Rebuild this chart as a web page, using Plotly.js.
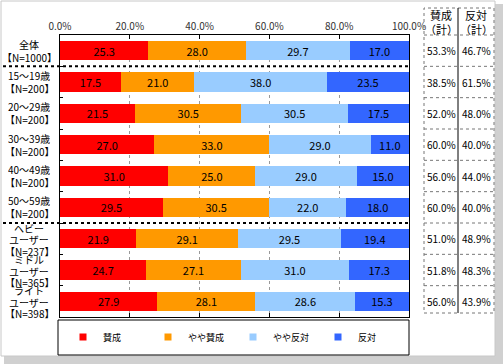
<!DOCTYPE html>
<html>
<head>
<meta charset="utf-8">
<script src="https://cdn.plot.ly/plotly-3.0.1.min.js"></script>
<style>html,body{margin:0;padding:0;background:#fff;}#chart{width:503px;height:364px;}</style>
</head>
<body>
<div id="chart"></div>
<script>
// ---- data ----
const categories = ['全体<br>【N=1000】', '15～19歳<br>【N=200】', '20～29歳<br>【N=200】', '30～39歳<br>【N=200】', '40～49歳<br>【N=200】', '50～59歳<br>【N=200】', 'ヘビー<br>ユーザー<br>【N=237】', 'ミドル<br>ユーザー<br>【N=365】', 'ライト<br>ユーザー<br>【N=398】'];
const seriesNames = ['賛成', 'やや賛成', 'やや反対', '反対'];
const sansei     = [25.3, 17.5, 21.5, 27.0, 31.0, 29.5, 21.9, 24.7, 27.9];
const yayaSansei = [28.0, 21.0, 30.5, 33.0, 25.0, 30.5, 29.1, 27.1, 28.1];
const yayaHantai = [29.7, 38.0, 30.5, 29.0, 29.0, 22.0, 29.5, 31.0, 28.6];
const hantai     = [17.0, 23.5, 17.5, 11.0, 15.0, 18.0, 19.4, 17.3, 15.3];
const sanseiTotal = ['53.3%', '38.5%', '52.0%', '60.0%', '56.0%', '60.0%', '51.0%', '51.8%', '56.0%'];
const hantaiTotal = ['46.7%', '61.5%', '48.0%', '40.0%', '44.0%', '40.0%', '48.9%', '48.3%', '43.9%'];
const tableHeaders = ['賛成<br>（計）', '反対<br>（計）'];
const xTickVals = [0, 20, 40, 60, 80, 100];

const colors = ['#FF0000', '#FF9900', '#99CCFF', '#3366FF'];
const values = [sansei, yayaSansei, yayaHantai, hantai];
const FONT = '"Noto Sans CJK JP", "Noto Sans", sans-serif';

// geometry helpers (pixels of the 503x364 canvas)
const W = 503, H = 364;
const M = {l: 60, r: 94, t: 35, b: 47};
const PW = W - M.l - M.r, PH = H - M.t - M.b;
const px = x => (x - M.l) / PW;          // pixel x -> paper x
const py = y => 1 - (y - M.t) / PH;      // pixel y -> paper y
const n = categories.length;
const rowY = i => 1 - (i + 0.5) / n;     // category centre -> paper y
const rowEdge = i => 1 - i / n;          // boundary above category i

const traces = values.map((v, k) => ({
  type: 'bar', orientation: 'h',
  x: v, y: categories,
  name: seriesNames[k],
  marker: {color: colors[k], line: {width: 0}},
  width: 0.62,
  text: v.map(d => d.toFixed(1)),
  textposition: 'inside', insidetextanchor: 'middle', textangle: 0,
  constraintext: 'none',
  textfont: {family: FONT, size: 11, color: '#000'},
  hoverinfo: 'skip', showlegend: false
}));
// legend-only markers (small squares)
seriesNames.forEach((nm, k) => traces.push({
  type: 'scatter', mode: 'markers', x: [null], y: [null], name: nm,
  marker: {symbol: 'square', size: 7, color: colors[k]}, showlegend: true, hoverinfo: 'skip'
}));

const shapes = [];
const annotations = [];

// outer frame with shadow
shapes.push({type: 'rect', xref: 'paper', yref: 'paper', x0: px(4), x1: px(503), y0: py(364), y1: py(4),
  fillcolor: '#d0d0d0', line: {width: 0}, layer: 'below'});
shapes.push({type: 'rect', xref: 'paper', yref: 'paper', x0: px(1), x1: px(495), y0: py(356), y1: py(1),
  fillcolor: '#ffffff', line: {color: '#c8c8c8', width: 1}, layer: 'below'});

// separators
[1, 6].forEach(i => shapes.push({type: 'line', xref: 'paper', yref: 'paper', x0: px(3), x1: px(411),
  y0: rowEdge(i), y1: rowEdge(i), line: {color: '#000', width: 2, dash: 'dot'}}));

// legend frame
shapes.push({type: 'rect', xref: 'paper', yref: 'paper', x0: px(58), x1: px(409), y0: py(355), y1: py(320),
  line: {color: '#000', width: 1}});

// table
const tL = 424, tM = 458, tR = 494, tT = 8, tB = 313;
shapes.push({type: 'rect', xref: 'paper', yref: 'paper', x0: px(tL), x1: px(tR), y0: py(tB), y1: py(tT),
  line: {color: '#777', width: 1, dash: 'dot'}});
shapes.push({type: 'line', xref: 'paper', yref: 'paper', x0: px(tM), x1: px(tM), y0: py(tB), y1: py(tT),
  line: {color: '#000', width: 1}});
for (let i = 0; i < n; i++) {
  shapes.push({type: 'line', xref: 'paper', yref: 'paper', x0: px(tL), x1: px(tR), y0: rowEdge(i), y1: rowEdge(i),
    line: {color: '#777', width: 1, dash: 'dot'}});
}
const cA = (tL + tM) / 2, cB = (tM + tR) / 2;
tableHeaders.forEach((h, k) => {
  h.split('<br>').forEach((line, j) => annotations.push({xref: 'paper', yref: 'paper', x: px(k ? cB : cA), y: py(15 + j * 14),
    text: line, showarrow: false, xanchor: 'center', yanchor: 'middle',
    font: {family: FONT, size: 11, color: '#000'}}));
});
for (let i = 0; i < n; i++) {
  annotations.push({xref: 'paper', yref: 'paper', x: px(cA), y: rowY(i), text: sanseiTotal[i], showarrow: false,
    xanchor: 'center', yanchor: 'middle', font: {family: FONT, size: 10, color: '#000'}});
  annotations.push({xref: 'paper', yref: 'paper', x: px(cB), y: rowY(i), text: hantaiTotal[i], showarrow: false,
    xanchor: 'center', yanchor: 'middle', font: {family: FONT, size: 10, color: '#000'}});
  // category labels (centred, one annotation per line for tight spacing)
  const lines = categories[i].split('<br>');
  const gap = lines.length === 2 ? 13 : 11.5;
  lines.forEach((line, j) => annotations.push({xref: 'paper', yref: 'y', x: px(29), y: categories[i],
    yshift: ((lines.length - 1) / 2 - j) * gap + (lines.length === 2 ? 0 : -1),
    text: line, showarrow: false, xanchor: 'center', yanchor: 'middle', height: 11,
    font: {family: FONT, size: 10, color: '#000'}}));
}

const layout = {
  width: W, height: H,
  margin: {l: M.l, r: M.r, t: M.t, b: M.b, autoexpand: false},
  paper_bgcolor: 'rgba(0,0,0,0)', plot_bgcolor: '#fff',
  font: {family: FONT, size: 10, color: '#000'},
  barmode: 'stack', bargap: 0.38,
  xaxis: {
    side: 'top', range: [0, 100], tickvals: xTickVals,
    ticktext: xTickVals.map(v => v.toFixed(1) + '%'),
    showgrid: true, gridcolor: '#999', griddash: 'dot', gridwidth: 1,
    showline: true, linecolor: '#000', linewidth: 1, mirror: 'ticks',
    ticks: 'inside', ticklen: 4, tickcolor: '#000',
    tickfont: {family: FONT, size: 10, color: '#333'}, zeroline: false, fixedrange: true
  },
  yaxis: {
    type: 'category', range: [n - 0.5, -0.5], showticklabels: false,
    ticks: 'inside', tickson: 'boundaries', ticklen: 3, tickcolor: '#000',
    showline: true, linecolor: '#000', linewidth: 1, mirror: true,
    showgrid: false, zeroline: false, fixedrange: true
  },
  showlegend: true,
  legend: {orientation: 'h', x: px(63), xanchor: 'left', y: py(337), yanchor: 'middle',
    entrywidth: 40, entrywidthmode: 'pixels', bgcolor: 'rgba(0,0,0,0)', borderwidth: 0,
    font: {family: FONT, size: 9, color: '#000'}, traceorder: 'normal'},
  shapes: shapes, annotations: annotations
};

Plotly.newPlot('chart', traces, layout, {displayModeBar: false, staticPlot: true});
</script>
</body>
</html>
